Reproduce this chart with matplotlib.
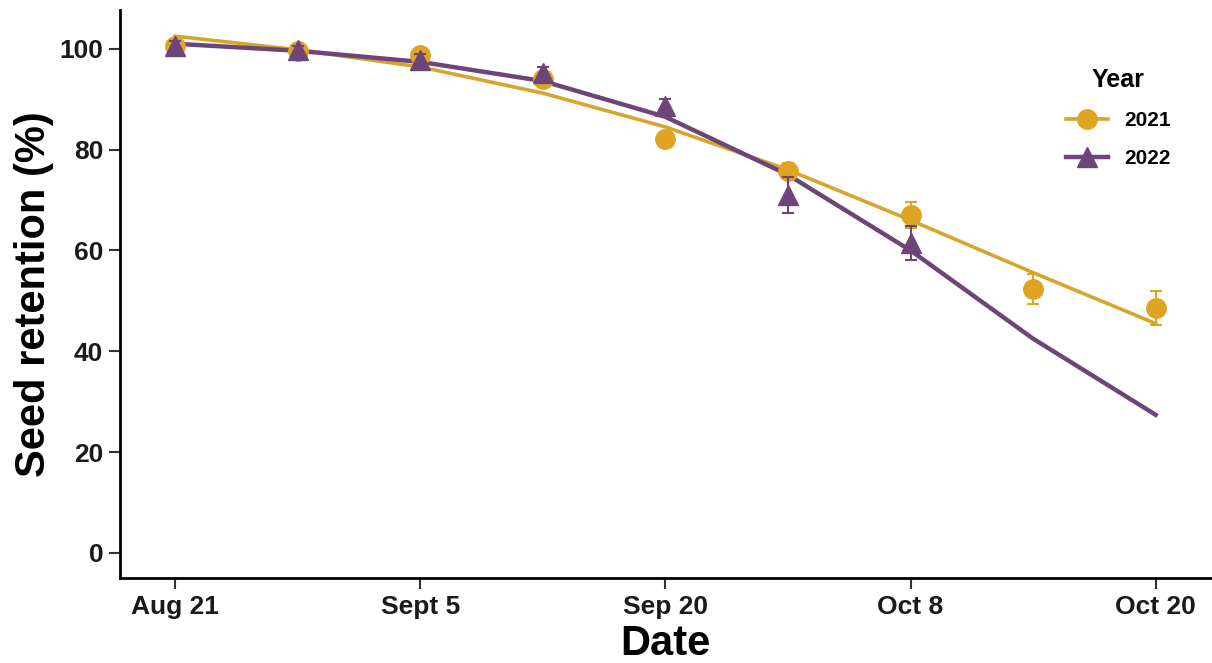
import numpy as np
import matplotlib
matplotlib.use("Agg")
from matplotlib import pyplot as plt
from matplotlib.lines import Line2D

plt.rcParams['font.family'] = ['Liberation Sans', 'DejaVu Sans']
plt.rcParams['font.weight'] = 'bold'

# sampling dates (evenly spaced positions), labels on every second
x_pos = np.arange(9)
tick_pos = [0, 2, 4, 6, 8]
tick_labels = ['Aug 21', 'Sept 5', 'Sep 20', 'Oct 8', 'Oct 20']

# observed means and errors
obs_2021 = [100.5, 99.6, 98.8, 94.0, 82.1, 75.8, 67.0, 52.3, 48.6]
err_2021 = [1.0, 0.8, 1.2, 1.2, 1.3, 1.5, 2.6, 3.0, 3.4]
obs_2022 = [100.6, 99.8, 97.8, 95.2, 88.6, 71.0, 61.5]
err_2022 = [1.0, 0.8, 1.2, 1.2, 1.5, 3.6, 3.3]

# fitted curves
fit_2021 = [102.5, 99.8, 96.4, 91.2, 84.5, 76.0, 66.0, 55.6, 45.5]
fit_2022 = [101.0, 99.6, 97.4, 93.6, 86.5, 75.0, 60.0, 42.5, 27.4]

c21 = '#E0A423'
c21_line = '#D6A52B'
c22 = '#6E4579'

fig = plt.figure(figsize=(12.12, 6.63), dpi=100)
ax = fig.add_axes([0.099, 0.128, 0.9, 0.857])

ax.plot(x_pos, fit_2021, color=c21_line, lw=2.6, zorder=2)
ax.plot(x_pos, fit_2022, color=c22, lw=3.2, zorder=3)

ax.errorbar(x_pos, obs_2021, yerr=err_2021, fmt='o', color=c21, ms=14,
            capsize=4, elinewidth=1.5, capthick=1.5, zorder=4)
ax.errorbar(x_pos[:len(obs_2022)], obs_2022, yerr=err_2022, fmt='^', color=c22,
            ms=15, capsize=4, elinewidth=1.5, capthick=1.5, zorder=5)

ax.set_xlim(-0.45, 8.45)
ax.set_ylim(-5, 107.7)
ax.set_yticks([0, 20, 40, 60, 80, 100])
ax.set_xticks(tick_pos)
ax.set_xticklabels(tick_labels)
ax.tick_params(axis='both', labelsize=19, width=1.5, length=8, color='#333333',
               labelcolor='#1a1a1a', pad=4)
for lab in ax.get_xticklabels() + ax.get_yticklabels():
    lab.set_fontweight('bold')

for s in ['top', 'right']:
    ax.spines[s].set_visible(False)
for s in ['left', 'bottom']:
    ax.spines[s].set_linewidth(2)

ax.set_xlabel('Date', fontsize=30, fontweight='bold', labelpad=4)
ax.set_ylabel('Seed retention (%)', fontsize=30, fontweight='bold', labelpad=4)

handles = [
    Line2D([0], [0], color=c21_line, lw=2.6, marker='o', ms=14, markerfacecolor=c21, markeredgecolor=c21),
    Line2D([0], [0], color=c22, lw=3.2, marker='^', ms=15),
]
leg = ax.legend(handles, ['2021', '2022'], title='Year', loc='upper left',
                bbox_to_anchor=(0.85, 0.93), frameon=False, fontsize=15,
                title_fontsize=18, handlelength=2.0, labelspacing=0.9)
leg.get_title().set_fontweight('bold')
for t in leg.get_texts():
    t.set_fontweight('bold')

fig.savefig('out.png', dpi=100)
